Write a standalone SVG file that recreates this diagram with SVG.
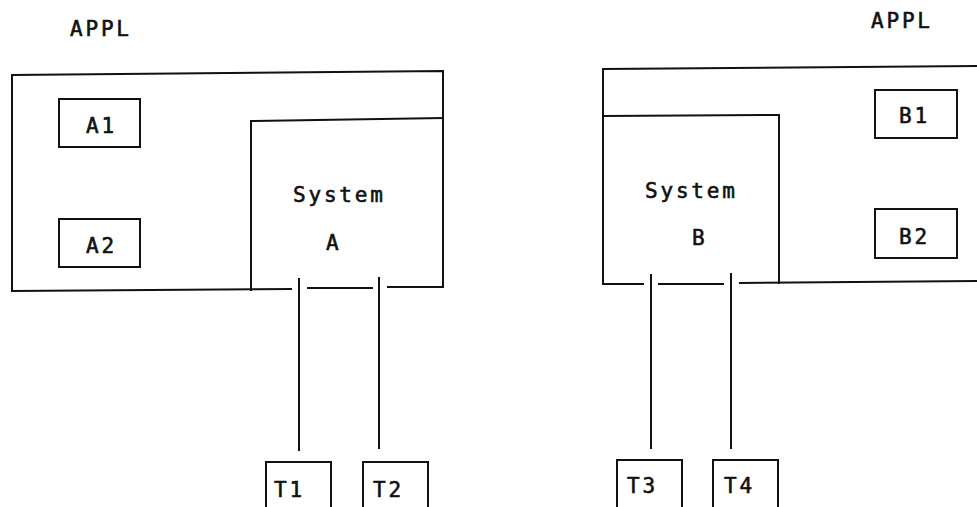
<svg xmlns="http://www.w3.org/2000/svg" width="977" height="507" viewBox="0 0 977 507">
  <style>
    .ln { fill: none; stroke: #111; stroke-width: 2; stroke-linecap: square; }
    .bx { fill: #fff; stroke: #111; stroke-width: 2; }
    .tx { font-family: "DejaVu Sans Mono", "Liberation Mono", monospace; font-size: 21px; letter-spacing: 2.8px; fill: #111; stroke: #111; stroke-width: 0.6px; }
  </style>
  <rect width="977" height="507" fill="#fff"/>

  <!-- Host A: application region and system A -->
  <g id="applA">
    <path class="ln" d="M291,289 L12,291 L12,75 L443,71 L443,287 L388,287"/>
    <text class="tx" x="70" y="36">APPL</text>
  </g>
  <g id="sysA">
    <path class="ln" d="M251,290 L251,121 L443,118"/>
    <path class="ln" d="M308,288 L372,288"/>
    <text class="tx" x="293" y="202">System</text>
    <text class="tx" x="326" y="250">A</text>
  </g>
  <g id="A1">
    <rect class="bx" x="59" y="99" width="81" height="48"/>
    <text class="tx" x="86" y="133">A1</text>
  </g>
  <g id="A2">
    <rect class="bx" x="59" y="219" width="81" height="48"/>
    <text class="tx" x="86" y="253">A2</text>
  </g>

  <!-- Host B: application region and system B -->
  <g id="applB">
    <path class="ln" d="M643,284 L603,284 L603,69 L985,66"/>
    <path class="ln" d="M740,283 L985,281"/>
    <text class="tx" x="871" y="28">APPL</text>
  </g>
  <g id="sysB">
    <path class="ln" d="M603,116 L779,115 L779,283"/>
    <path class="ln" d="M659,284 L723,284"/>
    <text class="tx" x="645" y="198">System</text>
    <text class="tx" x="692" y="245">B</text>
  </g>
  <g id="B1">
    <rect class="bx" x="875" y="90" width="82" height="48"/>
    <text class="tx" x="899" y="123">B1</text>
  </g>
  <g id="B2">
    <rect class="bx" x="875" y="209" width="82" height="49"/>
    <text class="tx" x="899" y="244">B2</text>
  </g>

  <!-- Terminals -->
  <g id="T1">
    <rect class="bx" x="266" y="462" width="65" height="60"/>
    <text class="tx" x="274" y="497">T1</text>
  </g>
  <g id="T2">
    <rect class="bx" x="363" y="462" width="65" height="60"/>
    <text class="tx" x="373" y="497">T2</text>
  </g>
  <g id="T3">
    <rect class="bx" x="617" y="460" width="65" height="60"/>
    <text class="tx" x="627" y="493">T3</text>
  </g>
  <g id="T4">
    <rect class="bx" x="713" y="460" width="65" height="60"/>
    <text class="tx" x="724" y="493">T4</text>
  </g>

  <!-- Terminal lines -->
  <g id="connectors">
    <path class="ln" d="M299,279 L299,450"/>
    <path class="ln" d="M379,278 L379,448"/>
    <path class="ln" d="M651,275 L651,448"/>
    <path class="ln" d="M731,274 L731,448"/>
  </g>
</svg>
